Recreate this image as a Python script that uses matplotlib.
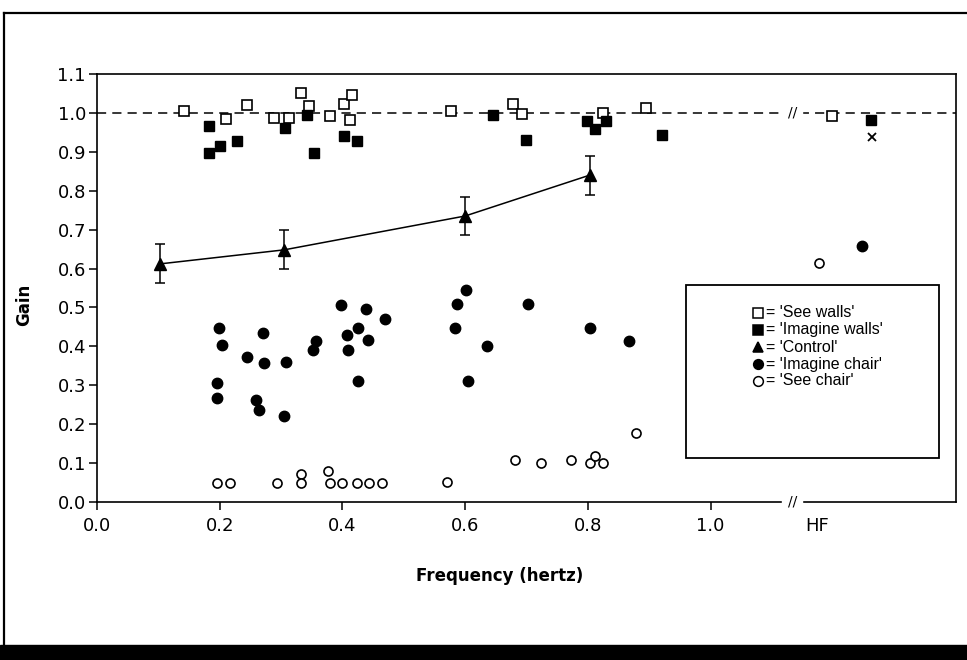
import matplotlib.pyplot as plt
from matplotlib.patches import Rectangle

plt.rcParams['font.family'] = ['DejaVu Sans']

# frequency (hertz) / gain readings for each condition
see_walls_f = [0.142, 0.210, 0.244, 0.288, 0.313, 0.332, 0.345, 0.380, 0.402, 0.412, 0.415,
               0.577, 0.678, 0.692, 0.825, 0.894]
see_walls_g = [1.005, 0.984, 1.020, 0.986, 0.986, 1.050, 1.018, 0.992, 1.022, 0.981, 1.046,
               1.005, 1.024, 0.997, 1.001, 1.012]

imagine_walls_f = [0.182, 0.183, 0.201, 0.229, 0.307, 0.342, 0.354, 0.402, 0.424,
                   0.645, 0.699, 0.798, 0.811, 0.830, 0.921]
imagine_walls_g = [0.967, 0.896, 0.915, 0.928, 0.960, 0.994, 0.898, 0.941, 0.928,
                   0.995, 0.930, 0.978, 0.958, 0.978, 0.944]

control_f = [0.103, 0.305, 0.600, 0.803]
control_g = [0.612, 0.648, 0.735, 0.840]
control_err = [0.05, 0.05, 0.05, 0.05]

imagine_chair_f = [0.195, 0.196, 0.199, 0.203, 0.244, 0.259, 0.264, 0.270, 0.272, 0.305,
                   0.308, 0.352, 0.357, 0.398, 0.407, 0.409, 0.425, 0.425, 0.439, 0.441,
                   0.470, 0.583, 0.587, 0.602, 0.605, 0.636, 0.702, 0.803, 0.867]
imagine_chair_g = [0.306, 0.266, 0.447, 0.403, 0.373, 0.263, 0.236, 0.435, 0.358, 0.221,
                   0.360, 0.391, 0.415, 0.507, 0.428, 0.391, 0.447, 0.310, 0.497, 0.417,
                   0.471, 0.447, 0.508, 0.544, 0.311, 0.400, 0.508, 0.447, 0.413]

see_chair_f = [0.195, 0.216, 0.294, 0.333, 0.333, 0.376, 0.379, 0.400, 0.423, 0.444,
               0.464, 0.570, 0.681, 0.724, 0.773, 0.803, 0.812, 0.825, 0.878]
see_chair_g = [0.048, 0.048, 0.050, 0.072, 0.048, 0.080, 0.050, 0.050, 0.050, 0.050,
               0.050, 0.052, 0.109, 0.099, 0.108, 0.101, 0.118, 0.101, 0.178]

# high frequency (HF) column, drawn past the axis break
hf_pos = 1.173
break_pos = 1.133
hf_see_walls = (1.198, 0.993)
hf_imagine_walls = (1.261, 0.982)
hf_cross = (1.263, 0.938)
hf_imagine_chair = (1.247, 0.659)
hf_see_chair = (1.177, 0.613)

x_ticks = [0.0, 0.2, 0.4, 0.6, 0.8, 1.0]
y_ticks = [0.0, 0.1, 0.2, 0.3, 0.4, 0.5, 0.6, 0.7, 0.8, 0.9, 1.0, 1.1]

fig = plt.figure(figsize=(9.67, 6.6), dpi=100)
ax = fig.add_axes([0.1003, 0.2394, 0.8883, 0.6485])

# reference line at gain 1
ax.plot([0, 1.4], [1.0, 1.0], color='black', linestyle=(0, (6, 4)), linewidth=1.1, zorder=1)

ax.plot(see_walls_f + [hf_see_walls[0]], see_walls_g + [hf_see_walls[1]], 's',
        markersize=7, markerfacecolor='white', markeredgecolor='black', markeredgewidth=1.2, zorder=3)
ax.plot(imagine_walls_f + [hf_imagine_walls[0]], imagine_walls_g + [hf_imagine_walls[1]], 's',
        markersize=7, color='black', zorder=3)
ax.errorbar(control_f, control_g, yerr=control_err, fmt='^-', color='black', markersize=8,
            linewidth=1.1, elinewidth=1.1, capsize=3.5, capthick=1.1, zorder=3)
ax.plot(imagine_chair_f + [hf_imagine_chair[0]], imagine_chair_g + [hf_imagine_chair[1]], 'o',
        markersize=7.5, color='black', zorder=3)
ax.plot(see_chair_f + [hf_see_chair[0]], see_chair_g + [hf_see_chair[1]], 'o',
        markersize=6.5, markerfacecolor='white', markeredgecolor='black', markeredgewidth=1.2, zorder=3)
ax.plot([hf_cross[0]], [hf_cross[1]], 'x', markersize=6, color='black', markeredgewidth=1.3)

# axis break marks
for yb in [0.0, 1.0]:
    ax.text(break_pos, yb, '//', ha='center', va='center', fontsize=10,
            backgroundcolor='white', clip_on=False, zorder=4)

ax.set_xlim(0, 1.4)
ax.set_ylim(0, 1.1)
ax.set_xticks(x_ticks, ['%.1f' % t for t in x_ticks])
ax.set_yticks(y_ticks, ['%.1f' % t for t in y_ticks])
ax.set_xticks([hf_pos], ['HF'], minor=True)
ax.tick_params(axis='both', which='major', direction='out', length=6, width=1.1, labelsize=13)
ax.tick_params(axis='y', which='major', pad=2)
ax.tick_params(axis='x', which='major', pad=5)
ax.tick_params(axis='x', which='minor', length=0, pad=11, labelsize=13)
for spine in ax.spines.values():
    spine.set_linewidth(1.2)

ax.set_xlabel('Frequency (hertz)', fontsize=12, fontweight='heavy')
ax.xaxis.set_label_coords(0.469, -0.152)
ax.set_ylabel('Gain', fontsize=12, fontweight='heavy')
ax.yaxis.set_label_coords(-0.0745, 0.46)

# hand drawn key box
ax.add_patch(Rectangle((0.6857, 0.1028), 0.2945, 0.4042, transform=ax.transAxes,
                       facecolor='white', edgecolor='black', linewidth=1.3, zorder=5))
key_labels = ["= 'See walls'", "= 'Imagine walls'", "= 'Control'", "= 'Imagine chair'", "= 'See chair'"]
key_markers = [('s', 'white'), ('s', 'black'), ('^', 'black'), ('o', 'black'), ('o', 'white')]
key_y = [0.4416, 0.4019, 0.3621, 0.3224, 0.2827]
for lab, (mk, fc), yk in zip(key_labels, key_markers, key_y):
    ax.plot([0.770], [yk], mk, transform=ax.transAxes, markersize=7, markerfacecolor=fc,
            markeredgecolor='black', markeredgewidth=1.1, zorder=6, clip_on=False)
    ax.text(0.779, yk, lab, transform=ax.transAxes, fontsize=11.5, family='Liberation Sans',
            va='center', ha='left', zorder=6)

# scanned page frame
fig.add_artist(plt.Line2D([0.0042, 0.0042], [0.023, 0.981], color='black', linewidth=1.6))
fig.add_artist(plt.Line2D([0.0042, 1.0], [0.981, 0.981], color='black', linewidth=1.6))
fig.add_artist(Rectangle((0, 0), 1, 0.0227, transform=fig.transFigure, color='black'))

plt.savefig('out.png', dpi=100)
